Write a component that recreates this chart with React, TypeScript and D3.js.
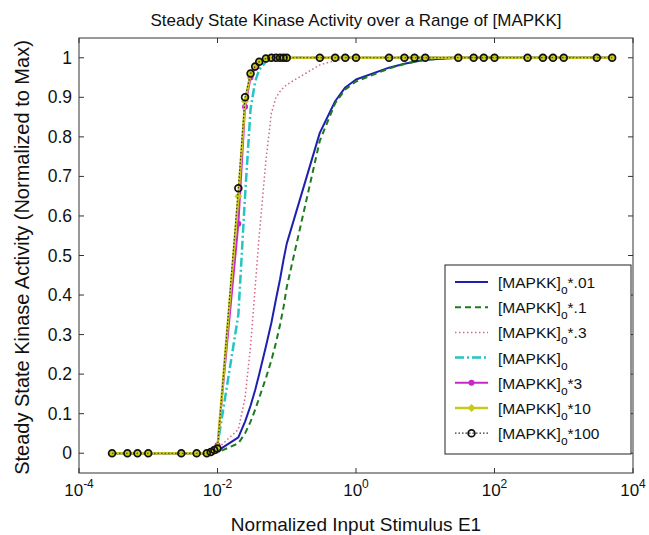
import React from "react";
import * as d3 from "d3";

const stimulus = [0.0003, 0.0005, 0.0007, 0.001, 0.003, 0.005, 0.007, 0.008, 0.009, 0.01,
  0.02, 0.025, 0.03, 0.035, 0.04, 0.05, 0.06, 0.07, 0.08, 0.09, 0.1,
  0.3, 0.5, 0.7, 1, 3, 5, 7, 10, 30, 50, 70, 100, 300, 500, 700, 1000, 3000, 5000];

const sDot01 = [0, 0, 0, 0, 0, 0, 0, 0.001, 0.003, 0.006,
  0.04, 0.08, 0.12, 0.16, 0.2, 0.27, 0.33, 0.39, 0.44, 0.49, 0.53,
  0.81, 0.89, 0.925, 0.945, 0.975, 0.985, 0.99, 0.995, 1, 1, 1, 1, 1, 1, 1, 1, 1, 1];
const sDot1 = [0, 0, 0, 0, 0, 0, 0, 0, 0.001, 0.002,
  0.025, 0.05, 0.08, 0.11, 0.14, 0.19, 0.235, 0.28, 0.325, 0.37, 0.42,
  0.79, 0.885, 0.92, 0.94, 0.973, 0.984, 0.99, 0.995, 1, 1, 1, 1, 1, 1, 1, 1, 1, 1];
const sDot3 = [0, 0, 0, 0, 0, 0, 0, 0.002, 0.006, 0.012,
  0.06, 0.14, 0.27, 0.42, 0.55, 0.74, 0.86, 0.9, 0.915, 0.925, 0.932,
  0.982, 0.993, 0.998, 1, 1, 1, 1, 1, 1, 1, 1, 1, 1, 1, 1, 1, 1, 1];
const sBase = [0, 0, 0, 0, 0, 0, 0, 0.003, 0.008, 0.02,
  0.35, 0.65, 0.87, 0.94, 0.97, 0.99, 0.997, 1, 1, 1, 1,
  1, 1, 1, 1, 1, 1, 1, 1, 1, 1, 1, 1, 1, 1, 1, 1, 1, 1];
const sX3 = [0, 0, 0, 0, 0, 0, 0, 0.002, 0.005, 0.02,
  0.58, 0.876, 0.95, 0.975, 0.99, 0.998, 1, 1, 1, 1, 1,
  1, 1, 1, 1, 1, 1, 1, 1, 1, 1, 1, 1, 1, 1, 1, 1, 1, 1];
const sX10 = [0, 0, 0, 0, 0, 0, 0, 0.002, 0.006, 0.015,
  0.65, 0.89, 0.96, 0.98, 0.99, 0.998, 1, 1, 1, 1, 1,
  1, 1, 1, 1, 1, 1, 1, 1, 1, 1, 1, 1, 1, 1, 1, 1, 1, 1];
const sX100 = [0, 0, 0, 0, 0, 0, 0, 0.003, 0.008, 0.012,
  0.67, 0.9, 0.96, 0.978, 0.99, 0.998, 1, 1, 1, 1, 1,
  1, 1, 1, 1, 1, 1, 1, 1, 1, 1, 1, 1, 1, 1, 1, 1, 1, 1];

const seriesLabels = ["*.01", "*.1", "*.3", "", "*3", "*10", "*100"];
const xTickExps = [-4, -2, 0, 2, 4];
const yTicks = [0, 0.1, 0.2, 0.3, 0.4, 0.5, 0.6, 0.7, 0.8, 0.9, 1];

const series = [
  { values: sDot01, color: "#1f1fb0", width: 2, dash: "", marker: "" },
  { values: sDot1, color: "#1e7a1e", width: 2, dash: "6,4", marker: "" },
  { values: sDot3, color: "#d06a86", width: 1.5, dash: "1.5,2.5", marker: "" },
  { values: sBase, color: "#26c4c4", width: 2.5, dash: "9,3,2,3", marker: "" },
  { values: sX3, color: "#c828c8", width: 2, dash: "", marker: "dot" },
  { values: sX10, color: "#c9c91a", width: 2.5, dash: "", marker: "diamond" },
  { values: sX100, color: "#333333", width: 1.2, dash: "1.5,2", marker: "circle" },
];

const W = 649, H = 535;
const L = 79, R = 633, T = 38, B = 473;
const FONT = "'Liberation Sans', Arial, Helvetica, sans-serif";

function Marker({ kind, x, y, color }: { kind: string; x: number; y: number; color: string }) {
  if (kind === "dot") return <circle cx={x} cy={y} r={3} fill={color} />;
  if (kind === "diamond")
    return <path d={`M${x},${y - 4}L${x + 4},${y}L${x},${y + 4}L${x - 4},${y}Z`} fill={color} />;
  if (kind === "circle")
    return <circle cx={x} cy={y} r={3.4} fill="none" stroke="#111" strokeWidth={1.7} />;
  return null;
}

export default function App() {
  const x = d3.scaleLog().domain([1e-4, 1e4]).range([L, R]);
  const y = d3.scaleLinear().domain([-0.05, 1.05]).range([B, T]);
  const line = d3
    .line<number>()
    .x((_, i) => x(stimulus[i]))
    .y((v) => y(v));

  const legX = 445, legY = 265, legW = 186, legH = 189;
  const rowY0 = 282, rowStep = 25.2;

  return (
    <svg width={W} height={H} style={{ position: "absolute", left: 0, top: 0, background: "#fff" }} fontFamily={FONT}>
      <rect x={0} y={0} width={W} height={H} fill="#fff" />
      <text x={(L + R) / 2} y={26} textAnchor="middle" fontSize={17} fill="#111">
        Steady State Kinase Activity over a Range of [MAPKK]
      </text>
      <defs>
        <clipPath id="plotclip">
          <rect x={L} y={T} width={R - L} height={B - T} />
        </clipPath>
      </defs>
      <g clipPath="url(#plotclip)">
        {series.map((s, k) => (
          <g key={k}>
            <path d={line(s.values) || ""} fill="none" stroke={s.color} strokeWidth={s.width}
              strokeDasharray={s.dash || undefined} strokeLinejoin="round" />
            {s.marker &&
              s.values.map((v, i) => (
                <Marker key={i} kind={s.marker} x={x(stimulus[i])} y={y(v)} color={s.color} />
              ))}
          </g>
        ))}
      </g>
      <rect x={L} y={T} width={R - L} height={B - T} fill="none" stroke="#333" strokeWidth={1} />
      {xTickExps.map((e) => {
        const px = x(Math.pow(10, e));
        return (
          <g key={e}>
            <line x1={px} x2={px} y1={B} y2={B - 5} stroke="#333" />
            <line x1={px} x2={px} y1={T} y2={T + 5} stroke="#333" />
            <text x={px} y={496} textAnchor="middle" fontSize={17} fill="#111">
              <tspan>10</tspan>
              <tspan dy={-8} fontSize={12}>{String(e)}</tspan>
            </text>
          </g>
        );
      })}
      {yTicks.map((t) => {
        const py = y(t);
        return (
          <g key={t}>
            <line x1={L} x2={L + 5} y1={py} y2={py} stroke="#333" />
            <line x1={R} x2={R - 5} y1={py} y2={py} stroke="#333" />
            <text x={72} y={py + 6} textAnchor="end" fontSize={17.5} fill="#111">
              {String(t)}
            </text>
          </g>
        );
      })}
      <text x={(L + R) / 2} y={531} textAnchor="middle" fontSize={19} fill="#111">
        Normalized Input Stimulus E1
      </text>
      <text transform={`translate(29,${(T + B) / 2 + 2}) rotate(-90)`} textAnchor="middle" fontSize={20} fill="#111">
        Steady State Kinase Activity (Normalized to Max)
      </text>
      <rect x={legX} y={legY} width={legW} height={legH} fill="#fff" stroke="#222" strokeWidth={1} />
      {series.map((s, k) => {
        const ry = rowY0 + k * rowStep;
        return (
          <g key={k}>
            <line x1={455} x2={488} y1={ry} y2={ry} stroke={s.color} strokeWidth={s.width}
              strokeDasharray={s.dash || undefined} />
            {s.marker && <Marker kind={s.marker} x={471.5} y={ry} color={s.color} />}
            <text x={498} y={ry + 6} fontSize={15.5} fill="#111">
              <tspan>[MAPKK]</tspan>
              <tspan dy={6} fontSize={12}>o</tspan>
              <tspan dy={-6}>{seriesLabels[k]}</tspan>
            </text>
          </g>
        );
      })}
    </svg>
  );
}
